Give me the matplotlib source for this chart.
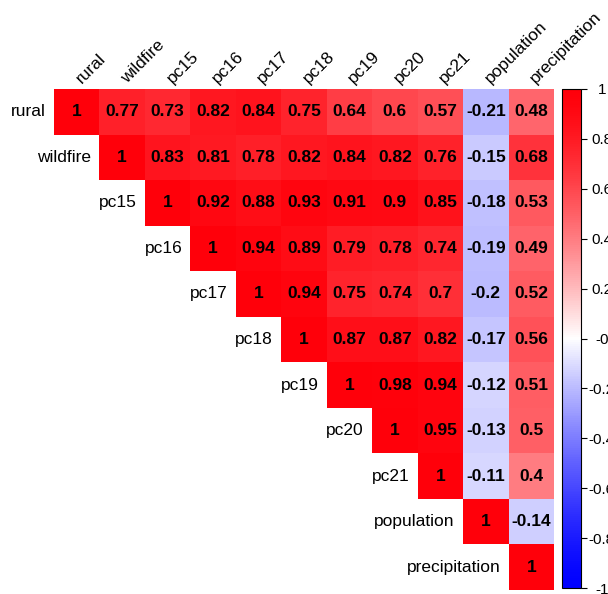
import matplotlib
matplotlib.use("Agg")
import matplotlib.pyplot as plt
from matplotlib.colors import LinearSegmentedColormap
import numpy as np

plt.rcParams['font.family'] = ['Liberation Sans', 'DejaVu Sans']

labels = ['rural', 'wildfire', 'pc15', 'pc16', 'pc17', 'pc18', 'pc19',
          'pc20', 'pc21', 'population', 'precipitation']

# upper triangle rows (diagonal onwards)
rows = [
    [1, 0.77, 0.73, 0.82, 0.84, 0.75, 0.64, 0.6, 0.57, -0.21, 0.48],
    [1, 0.83, 0.81, 0.78, 0.82, 0.84, 0.82, 0.76, -0.15, 0.68],
    [1, 0.92, 0.88, 0.93, 0.91, 0.9, 0.85, -0.18, 0.53],
    [1, 0.94, 0.89, 0.79, 0.78, 0.74, -0.19, 0.49],
    [1, 0.94, 0.75, 0.74, 0.7, -0.2, 0.52],
    [1, 0.87, 0.87, 0.82, -0.17, 0.56],
    [1, 0.98, 0.94, -0.12, 0.51],
    [1, 0.95, -0.13, 0.5],
    [1, -0.11, 0.4],
    [1, -0.14],
    [1],
]

n = len(labels)
corr = np.full((n, n), np.nan)
for i, r in enumerate(rows):
    corr[i, i:] = r

# blue - white - red ramp, a bit more saturated near zero than plain bwr
xs = np.linspace(-1, 1, 201)
cols = []
for x in xs:
    f = (1 - abs(x)) ** 1.4
    if x >= 0:
        cols.append((1.0, f, min(1.0, f + 0.04 * (1 - f))))
    else:
        cols.append((f, f, 1.0))
cmap = LinearSegmentedColormap.from_list('bwr2', cols, N=256)

fig = plt.figure(figsize=(6.08, 5.94), dpi=100)
W, H = 608, 594
ax = fig.add_axes([54 / W, 1 - 590 / H, 500 / W, 501 / H])

masked = np.ma.masked_invalid(corr)
mesh = ax.pcolormesh(np.arange(n + 1) - 0.5, np.arange(n + 1) - 0.5, masked,
                     cmap=cmap, vmin=-1, vmax=1, edgecolor='none')
ax.set_xlim(-0.5, n - 0.5)
ax.set_ylim(n - 0.5, -0.5)
ax.axis('off')

for i in range(n):
    for j in range(i, n):
        v = corr[i, j]
        ax.text(j, i, f"{v:g}", ha='center', va='center', fontsize=12.5,
                fontweight='bold', color='black')
    # row label to the left of the diagonal
    ax.text(i - 0.68, i, labels[i], ha='right', va='center', fontsize=12.5)
    # column label on top, rotated
    ax.text(i + 0.15, -0.57, labels[i], ha='left', va='bottom', fontsize=12.5,
            rotation=45, rotation_mode='anchor', clip_on=False)

cax = fig.add_axes([562 / W, 1 - 588 / H, 19 / W, 499 / H])
cb = fig.colorbar(mesh, cax=cax)
ticks = np.round(np.arange(-1, 1.01, 0.2), 1)
cb.set_ticks(ticks)
cb.set_ticklabels([f"{t:g}" for t in ticks])
cb.ax.tick_params(labelsize=11, length=4, width=0.8, direction='out', pad=11)
for lab in cb.ax.get_yticklabels():
    lab.set_horizontalalignment('center')
cb.outline.set_linewidth(0.8)

fig.savefig('out.png', dpi=100)
